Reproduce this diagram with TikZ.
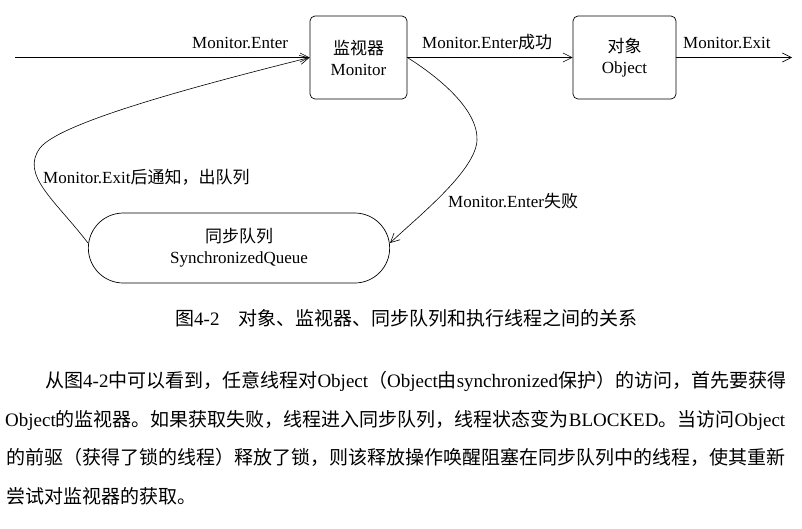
\documentclass[tikz,border=0pt]{standalone}
\usepackage{fontspec}
\setmainfont{Liberation Serif}
\newfontfamily\cjk{Noto Sans CJK SC}
\usetikzlibrary{arrows.meta,shapes.misc}
\newcommand{\zh}[1]{{\cjk #1}}
\XeTeXlinebreaklocale "zh"
\XeTeXlinebreakskip=0pt plus 2pt minus 1pt

\begin{document}
\begin{tikzpicture}[x=1pt, y=-1pt, font=\fontsize{17}{21}\selectfont,
    box/.style={draw, rounded corners=5pt, minimum height=83pt, align=center, line width=0.7pt},
    lbl/.style={anchor=base west, inner sep=0pt},
    arr/.style={-{Straight Barb[length=9pt,width=9pt]}, line width=0.6pt},
    txt/.style={anchor=base west, inner sep=0pt, font=\fontsize{19}{19}\selectfont}]
  \useasboundingbox (0,0) rectangle (802,528);
  % boxes
  \node[box, minimum width=97pt] (monitor) at (358.5,57.5) {\zh{监视器}\\Monitor};
  \node[box, minimum width=103pt] (object) at (624.5,57.5) {\zh{对象}\\Object};
  \node[draw, rounded rectangle, minimum width=308pt, minimum height=70pt, align=center, line width=0.7pt]
    (queue) at (239,248) {\zh{同步队列}\\SynchronizedQueue};
  \coordinate (in) at (15,57.5);
  \coordinate (out) at (792,57.5);
  % arrows
  \draw[arr] (in) -- (monitor.west);
  \draw[arr] (monitor.east) -- (object.west);
  \draw[arr] (object.east) -- (out);
  \draw[arr] ([yshift=5pt]queue.west) .. controls (55,200) and (20,175) .. (40,148)
    .. controls (60,122) and (200,85) .. (monitor.west);
  \draw[arr] (monitor.east) .. controls (440,78) and (478,110) .. (477,140)
    .. controls (476,170) and (420,215) .. ([yshift=5pt]queue.east);
  % labels
  \node[lbl] (enter) at (192,48) {Monitor.Enter};
  \node[lbl] (enterok) at (422,48) {Monitor.Enter\zh{成功}};
  \node[lbl] (exit) at (683,48) {Monitor.Exit};
  \node[lbl] (notify) at (43,183) {Monitor.Exit\zh{后通知，出队列}};
  \node[lbl] (enterfail) at (448,207) {Monitor.Enter\zh{失败}};
  % caption and text
  \node[txt] (caption) at (175,325) {\zh{图}4-2\quad\zh{对象、监视器、同步队列和执行线程之间的关系}};
  \node[txt] (line1) at (45,387) {\makebox[738pt][s]{\zh{从图}4-2\zh{中可以看到，任意线程对}Object\zh{（}Object\zh{由}synchronized\zh{保护）的访问，首先要获得}}};
  \node[txt] (line2) at (5,426) {\makebox[788pt][s]{Object\zh{的监视器。如果获取失败，线程进入同步队列，线程状态变为}BLOCKED\zh{。当访问}Object}};
  \node[txt] (line3) at (6,464) {\makebox[787pt][s]{\zh{的前驱（获得了锁的线程）释放了锁，则该释放操作唤醒阻塞在同步队列中的线程，使其重新}}};
  \node[txt] (line4) at (6,503) {\zh{尝试对监视器的获取。}};
\end{tikzpicture}
\end{document}
